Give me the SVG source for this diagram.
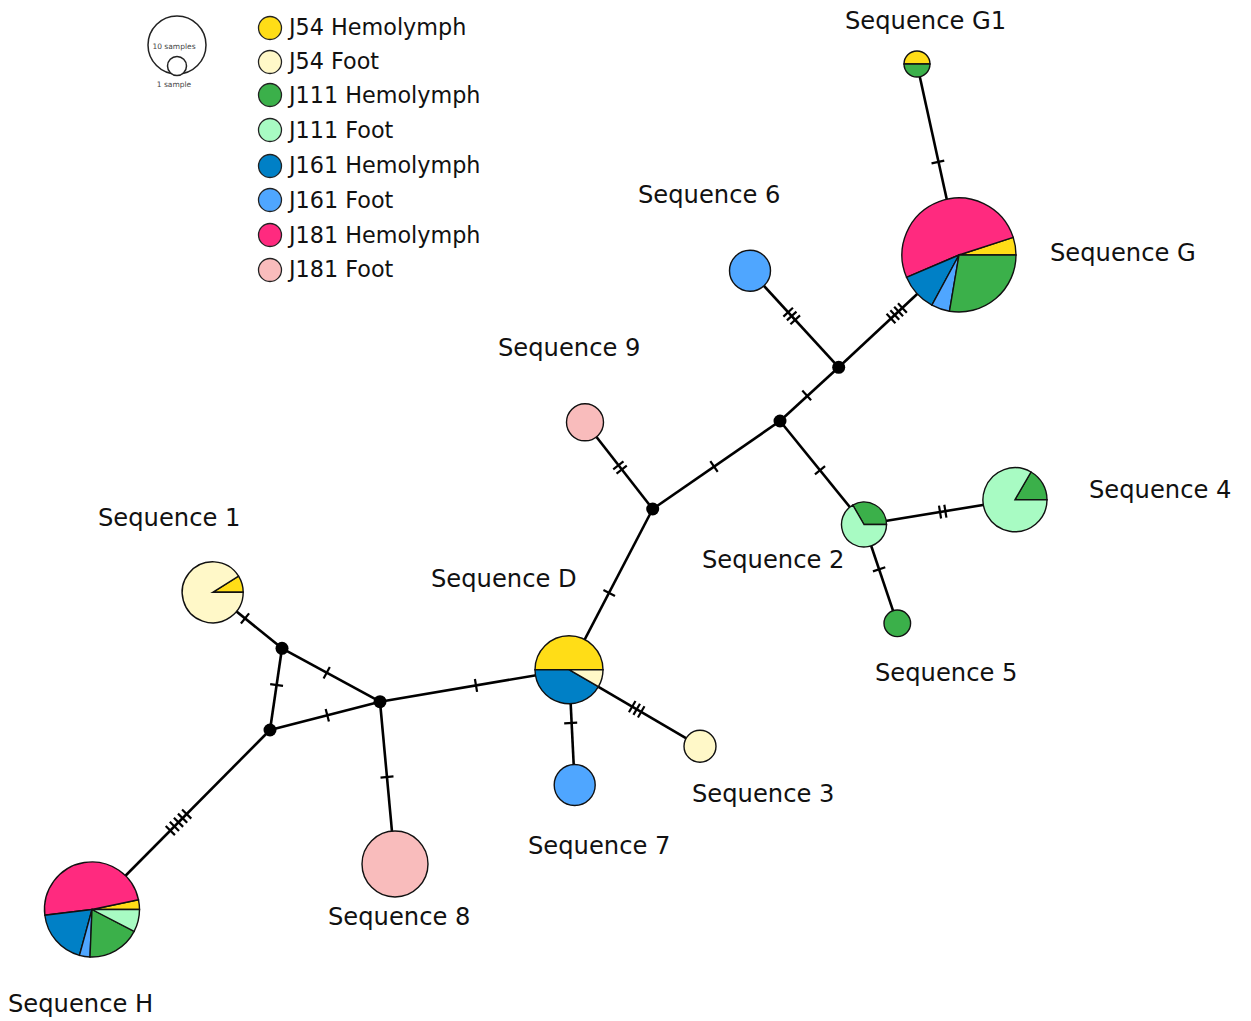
<svg xmlns="http://www.w3.org/2000/svg" xmlns:xlink="http://www.w3.org/1999/xlink" width="1251" height="1021" viewBox="0 0 1251 1021">
<style>
.lbl{font-family:"DejaVu Sans","Verdana",sans-serif;font-size:24.2px;fill:#111}
.leg{font-family:"DejaVu Sans","Verdana",sans-serif;font-size:22.3px;fill:#111}
.sm{font-family:"DejaVu Sans","Verdana",sans-serif;font-size:7.5px;fill:#444;text-anchor:middle}
.e{stroke:#000;stroke-width:2.6;fill:none}
.tk line{stroke:#000;stroke-width:2.2}
.pie path,.pie circle{stroke:#111;stroke-width:1.4}
.dot{fill:#000}
.y{fill:#FFDD17}.ly{fill:#FFF8C8}.g{fill:#3BB04A}.lg{fill:#A8FBC3}
.db{fill:#0080C6}.lb{fill:#4FA6FF}.pk{fill:#FF2A7F}.lp{fill:#F9BCBC}
</style>
<defs>
<g id="t1" class="tk"><line x1="0" y1="-6.5" x2="0" y2="6.5"/></g>
<g id="t2" class="tk"><line x1="-2.7" y1="-6.5" x2="-2.7" y2="6.5"/><line x1="2.7" y1="-6.5" x2="2.7" y2="6.5"/></g>
<g id="t3" class="tk"><line x1="-5.2" y1="-6.5" x2="-5.2" y2="6.5"/><line x1="0" y1="-6.5" x2="0" y2="6.5"/><line x1="5.2" y1="-6.5" x2="5.2" y2="6.5"/></g>
<g id="t4" class="tk"><line x1="-7.8" y1="-6.5" x2="-7.8" y2="6.5"/><line x1="-2.6" y1="-6.5" x2="-2.6" y2="6.5"/><line x1="2.6" y1="-6.5" x2="2.6" y2="6.5"/><line x1="7.8" y1="-6.5" x2="7.8" y2="6.5"/></g>
<g id="t5" class="tk"><line x1="-11.6" y1="-6.5" x2="-11.6" y2="6.5"/><line x1="-5.8" y1="-6.5" x2="-5.8" y2="6.5"/><line x1="0" y1="-6.5" x2="0" y2="6.5"/><line x1="5.8" y1="-6.5" x2="5.8" y2="6.5"/><line x1="11.6" y1="-6.5" x2="11.6" y2="6.5"/></g>
</defs>
<rect width="1251" height="1021" fill="#fff"/>

<g id="legend">
<circle cx="177" cy="45" r="29" fill="#fff" stroke="#222" stroke-width="1.5"/>
<circle cx="177" cy="66" r="9.5" fill="#fff" stroke="#222" stroke-width="1.5"/>
<text class="sm" x="174" y="49">10 samples</text>
<text class="sm" x="174" y="87">1 sample</text>
<g stroke="#222" stroke-width="1.3">
<circle class="y" cx="270" cy="28" r="11.5"/>
<circle class="ly" cx="270" cy="62" r="11.5"/>
<circle class="g" cx="270" cy="95" r="11.5"/>
<circle class="lg" cx="270" cy="130" r="11.5"/>
<circle class="db" cx="270" cy="166" r="11.5"/>
<circle class="lb" cx="270" cy="200" r="11.5"/>
<circle class="pk" cx="270" cy="235" r="11.5"/>
<circle class="lp" cx="270" cy="270" r="11.5"/>
</g>
<text class="leg" x="289" y="35">J54 Hemolymph</text>
<text class="leg" x="289" y="69">J54 Foot</text>
<text class="leg" x="289" y="103">J111 Hemolymph</text>
<text class="leg" x="289" y="138">J111 Foot</text>
<text class="leg" x="289" y="173">J161 Hemolymph</text>
<text class="leg" x="289" y="208">J161 Foot</text>
<text class="leg" x="289" y="243">J181 Hemolymph</text>
<text class="leg" x="289" y="277">J181 Foot</text>
</g>

<g id="connectors">
<line class="e" x1="917" y1="64" x2="959" y2="255"/>
<line class="e" x1="959" y1="255" x2="838.7" y2="367.3"/>
<line class="e" x1="750" y1="270.7" x2="838.7" y2="367.3"/>
<line class="e" x1="838.7" y1="367.3" x2="780" y2="421"/>
<line class="e" x1="780" y1="421" x2="652.7" y2="509"/>
<line class="e" x1="780" y1="421" x2="864" y2="524.5"/>
<line class="e" x1="864" y1="524.5" x2="1015" y2="499.7"/>
<line class="e" x1="864" y1="524.5" x2="897.3" y2="623.3"/>
<line class="e" x1="585" y1="422.3" x2="652.7" y2="509"/>
<line class="e" x1="652.7" y1="509" x2="569" y2="669.7"/>
<line class="e" x1="569" y1="669.7" x2="574.7" y2="785"/>
<line class="e" x1="569" y1="669.7" x2="700" y2="746.3"/>
<line class="e" x1="569" y1="669.7" x2="380" y2="701.7"/>
<line class="e" x1="380" y1="701.7" x2="282" y2="648.3"/>
<line class="e" x1="380" y1="701.7" x2="270" y2="730"/>
<line class="e" x1="282" y1="648.3" x2="270" y2="730"/>
<line class="e" x1="282" y1="648.3" x2="212.7" y2="592.3"/>
<line class="e" x1="380" y1="701.7" x2="395" y2="864"/>
<line class="e" x1="270" y1="730" x2="92" y2="909.5"/>
<use href="#t1" transform="translate(937.9,162) rotate(77.6)"/>
<use href="#t4" transform="translate(896.7,313.2) rotate(-43)"/>
<use href="#t3" transform="translate(791.7,316) rotate(47.2)"/>
<use href="#t1" transform="translate(806.7,395.4) rotate(-42.5)"/>
<use href="#t1" transform="translate(714,466.4) rotate(-34.5)"/>
<use href="#t1" transform="translate(820,470.3) rotate(50.9)"/>
<use href="#t2" transform="translate(942.7,511.6) rotate(-9.3)"/>
<use href="#t1" transform="translate(879.1,569.3) rotate(71.4)"/>
<use href="#t2" transform="translate(620,467.5) rotate(52)"/>
<use href="#t1" transform="translate(609.2,593) rotate(117.5)"/>
<use href="#t1" transform="translate(570.7,723) rotate(87.2)"/>
<use href="#t3" transform="translate(636.7,709.3) rotate(30.3)"/>
<use href="#t1" transform="translate(476,685.4) rotate(-9.6)"/>
<use href="#t1" transform="translate(326.7,672.8) rotate(28.6)"/>
<use href="#t1" transform="translate(327.3,715.2) rotate(-14.4)"/>
<use href="#t1" transform="translate(276.6,685) rotate(98.4)"/>
<use href="#t1" transform="translate(245,618.4) rotate(38.9)"/>
<use href="#t1" transform="translate(387,777) rotate(84.7)"/>
<use href="#t5" transform="translate(178.5,822.3) rotate(-45.2)"/>
</g>

<g id="median-vectors">
<circle class="dot" cx="282" cy="648.3" r="6.5"/>
<circle class="dot" cx="380" cy="701.7" r="6.5"/>
<circle class="dot" cx="270" cy="730" r="6.5"/>
<circle class="dot" cx="652.7" cy="509" r="6.5"/>
<circle class="dot" cx="780" cy="421" r="6.5"/>
<circle class="dot" cx="838.7" cy="367.3" r="6.5"/>
</g>

<g id="seq-G1" class="pie">
<path class="y" d="M904,64 A13,13 0 0 1 930,64 Z"/>
<path class="g" d="M930,64 A13,13 0 0 1 904,64 Z"/>
<text class="lbl" x="845" y="29">Sequence G1</text>
</g>

<g id="seq-G" class="pie">
<path class="y" d="M959,255 L1016,255 A57,57 0 0 0 1013.21,237.39 Z"/>
<path class="pk" d="M959,255 L1013.21,237.39 A57,57 0 1 0 906.53,277.27 Z"/>
<path class="db" d="M959,255 L906.53,277.27 A57,57 0 0 0 931.89,305.14 Z"/>
<path class="lb" d="M959,255 L931.89,305.14 A57,57 0 0 0 949.49,311.2 Z"/>
<path class="g" d="M959,255 L949.49,311.2 A57,57 0 0 0 1016,255 Z"/>
<text class="lbl" x="1050" y="261">Sequence G</text>
</g>

<g id="seq-6" class="pie">
<circle class="lb" cx="750" cy="270.7" r="20.5"/>
<text class="lbl" x="638" y="203">Sequence 6</text>
</g>

<g id="seq-9" class="pie">
<circle class="lp" cx="585" cy="422.3" r="18.5"/>
<text class="lbl" x="498" y="356">Sequence 9</text>
</g>

<g id="seq-2" class="pie">
<path class="g" d="M864,524.5 L886.5,524.5 A22.5,22.5 0 0 0 852.75,505.02 Z"/>
<path class="lg" d="M864,524.5 L852.75,505.02 A22.5,22.5 0 1 0 886.5,524.5 Z"/>
<text class="lbl" x="702" y="568">Sequence 2</text>
</g>

<g id="seq-4" class="pie">
<path class="g" d="M1015,499.7 L1047,499.7 A32,32 0 0 0 1031,471.99 Z"/>
<path class="lg" d="M1015,499.7 L1031,471.99 A32,32 0 1 0 1047,499.7 Z"/>
<text class="lbl" x="1089" y="498">Sequence 4</text>
</g>

<g id="seq-5" class="pie">
<circle class="g" cx="897.3" cy="623.3" r="13.3"/>
<text class="lbl" x="875" y="681">Sequence 5</text>
</g>

<g id="seq-D" class="pie">
<path class="y" d="M569,669.7 L603,669.7 A34,34 0 0 0 535,669.7 Z"/>
<path class="db" d="M569,669.7 L535,669.7 A34,34 0 0 0 598.44,686.7 Z"/>
<path class="ly" d="M569,669.7 L598.44,686.7 A34,34 0 0 0 603,669.7 Z"/>
<text class="lbl" x="431" y="587">Sequence D</text>
</g>

<g id="seq-7" class="pie">
<circle class="lb" cx="574.7" cy="785" r="20.5"/>
<text class="lbl" x="528" y="854">Sequence 7</text>
</g>

<g id="seq-3" class="pie">
<circle class="ly" cx="700" cy="746.3" r="16"/>
<text class="lbl" x="692" y="802">Sequence 3</text>
</g>

<g id="seq-1" class="pie">
<path class="y" d="M212.7,592.3 L243.2,592.3 A30.5,30.5 0 0 0 238.56,576.14 Z"/>
<path class="ly" d="M212.7,592.3 L238.56,576.14 A30.5,30.5 0 1 0 243.2,592.3 Z"/>
<text class="lbl" x="98" y="526">Sequence 1</text>
</g>

<g id="seq-8" class="pie">
<circle class="lp" cx="395" cy="864" r="33"/>
<text class="lbl" x="328" y="925">Sequence 8</text>
</g>

<g id="seq-H" class="pie">
<path class="y" d="M92,909.5 L139.5,909.5 A47.5,47.5 0 0 0 138.5,899.79 Z"/>
<path class="pk" d="M92,909.5 L138.5,899.79 A47.5,47.5 0 0 0 44.84,915.21 Z"/>
<path class="db" d="M92,909.5 L44.84,915.21 A47.5,47.5 0 0 0 79.47,955.32 Z"/>
<path class="lb" d="M92,909.5 L79.47,955.32 A47.5,47.5 0 0 0 90.01,956.96 Z"/>
<path class="g" d="M92,909.5 L90.01,956.96 A47.5,47.5 0 0 0 134.13,931.43 Z"/>
<path class="lg" d="M92,909.5 L134.13,931.43 A47.5,47.5 0 0 0 139.5,909.5 Z"/>
<text class="lbl" x="8" y="1012">Sequence H</text>
</g>
</svg>
